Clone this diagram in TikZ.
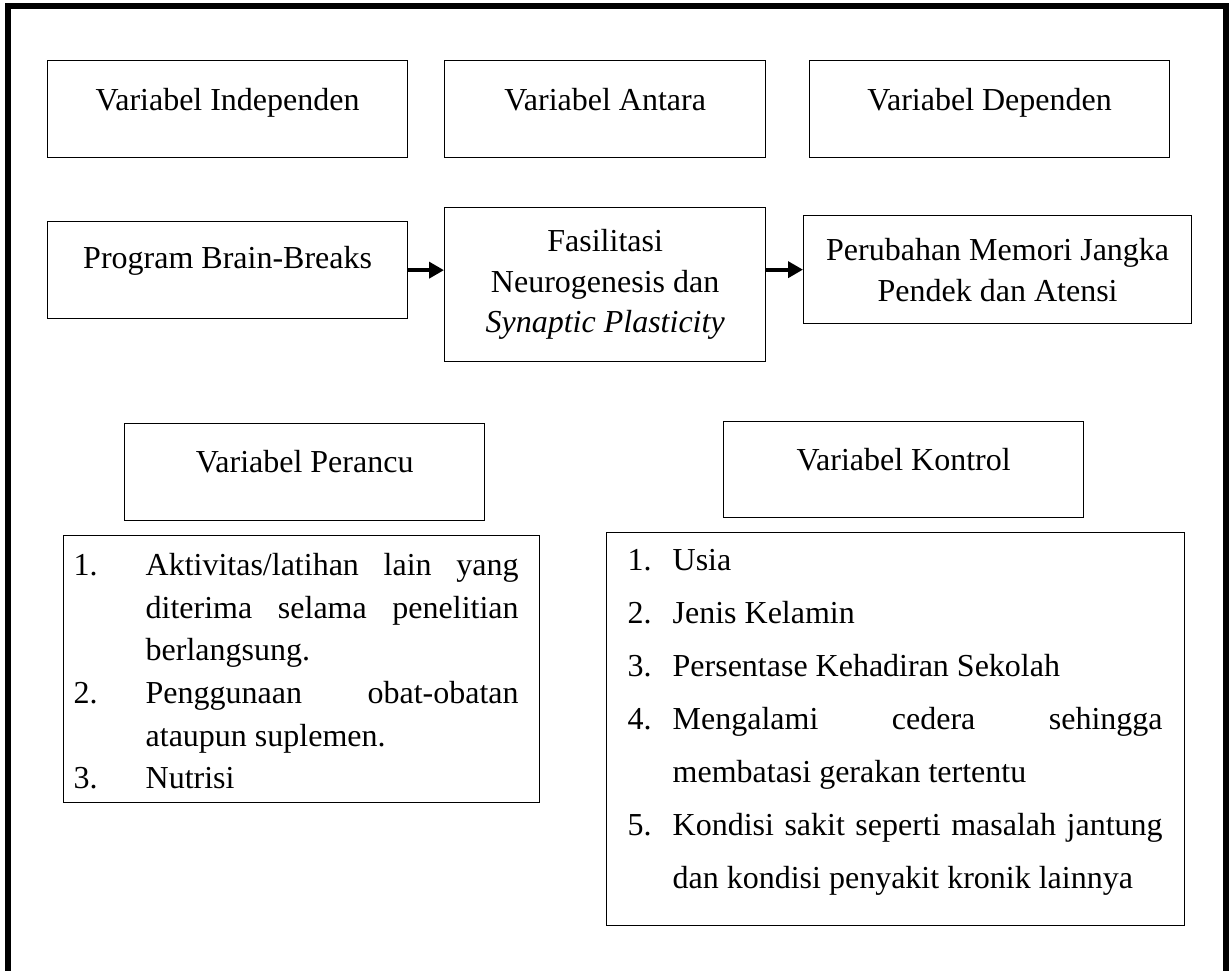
\documentclass[tikz,border=0pt]{standalone}
\usepackage{fontspec}
\setmainfont{Liberation Serif}
\usetikzlibrary{arrows.meta}
\begin{document}
\begin{tikzpicture}[x=1pt,y=-1pt,
  box/.style={draw, line width=1.3pt, inner sep=0pt, font=\fontsize{32}{40}\selectfont},
  headbox/.style={box, anchor=north west, minimum width=360pt, text height=50pt, text depth=47pt},
  arr/.style={line width=4pt, -{Triangle[length=15pt,width=16pt]}},
  listbox/.style={box, anchor=north west, align=left}
]
\useasboundingbox (0,0) rectangle (1232,970);
\draw[line width=6pt] (8,980) -- (8,5.5) -- (1225.5,5.5) -- (1225.5,980);

% header row
\node[headbox] (hi) at (47,60) {Variabel Independen};
\node[headbox, minimum width=321pt] (ha) at (444,60) {Variabel Antara};
\node[headbox] (hd) at (809,60) {Variabel Dependen};

% main row
\node[box, anchor=north west, minimum width=360pt, text height=47pt, text depth=50pt] (prog) at (47,221) {Program Brain-Breaks};
\node[box, anchor=north west, minimum width=321pt, minimum height=154pt, align=center, font=\fontsize{32}{40.5}\selectfont] (fas) at (444,207) {Fasilitasi\\Neurogenesis dan\\\textit{Synaptic Plasticity}};
\node[box, anchor=north west, minimum width=388pt, minimum height=108pt, align=center, font=\fontsize{32}{41}\selectfont] (per) at (803,215) {Perubahan Memori Jangka\\Pendek dan Atensi};

\draw[arr] (prog.east) -- (prog.east -| fas.west);
\draw[arr] (fas.east |- per.west) -- (per.west);

% lower headers
\node[headbox, text height=49pt, text depth=48pt] (pc) at (124,423) {Variabel Perancu};
\node[headbox, text height=49pt, text depth=47pt] (kt) at (723,421) {Variabel Kontrol};

% lists
\node[listbox, inner xsep=10pt, text width=456pt, text height=40pt, text depth=227pt, font=\fontsize{32}{42.6}\selectfont] (pl) at (63,535) {%
\spaceskip=0pt\xspaceskip=0pt\relax
\makebox[72pt][l]{1.}\makebox[373pt][l]{Aktivitas/latihan\hfill lain\hfill yang}\\
\hspace*{72pt}\makebox[373pt][l]{diterima\hfill selama\hfill penelitian}\\
\hspace*{72pt}berlangsung.\\
\makebox[72pt][l]{2.}\makebox[373pt][l]{Penggunaan\hfill obat-obatan}\\
\hspace*{72pt}ataupun suplemen.\\
\makebox[72pt][l]{3.}Nutrisi};

\node[listbox, inner xsep=21pt, text width=536pt, text height=38pt, text depth=355pt, font=\fontsize{32}{53}\selectfont] (kl) at (606,532) {%
\spaceskip=0pt\xspaceskip=0pt\relax
\makebox[45pt][l]{1.}Usia\\
\makebox[45pt][l]{2.}Jenis Kelamin\\
\makebox[45pt][l]{3.}Persentase Kehadiran Sekolah\\
\makebox[45pt][l]{4.}\makebox[490pt][l]{Mengalami\hfill cedera\hfill sehingga}\\
\hspace*{45pt}membatasi gerakan tertentu\\
\makebox[45pt][l]{5.}\makebox[490pt][l]{Kondisi\hfill sakit\hfill seperti\hfill masalah\hfill jantung}\\
\hspace*{45pt}dan kondisi penyakit kronik lainnya};
\end{tikzpicture}
\end{document}
